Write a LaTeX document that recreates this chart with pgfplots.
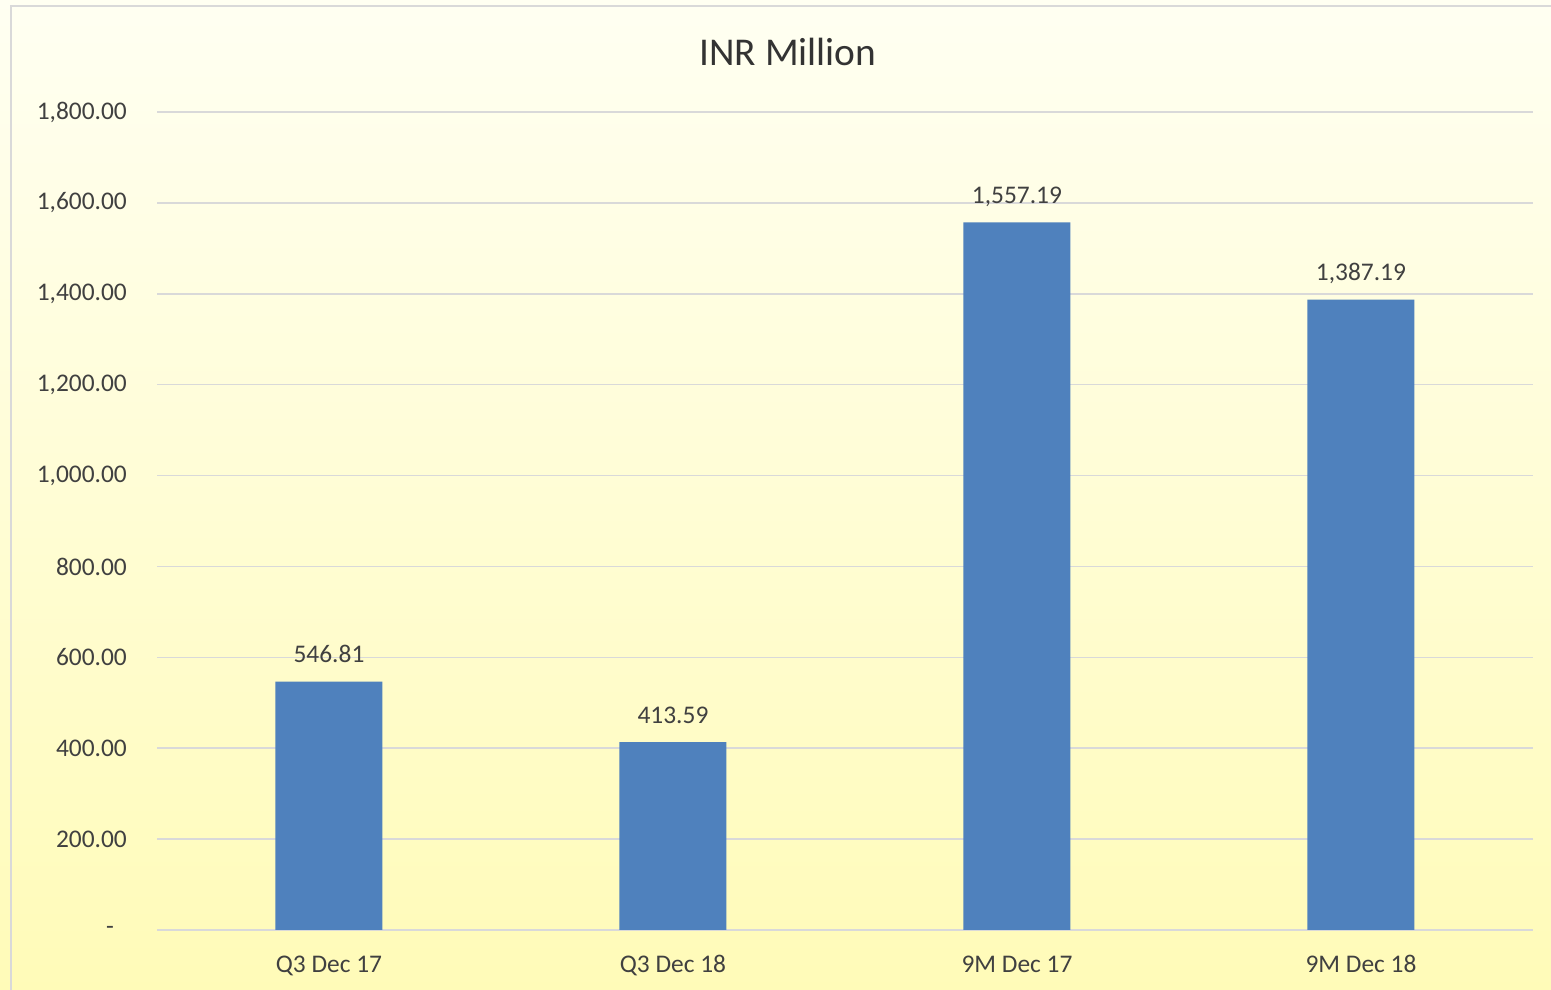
\documentclass[border=0pt]{standalone}
\usepackage{fontspec}
\setmainfont{Carlito}
\usepackage{pgfplots}
\pgfplotsset{compat=1.18}
\definecolor{barblue}{HTML}{4F81BD}
\definecolor{gridgray}{HTML}{D9D9D9}
\definecolor{txt}{HTML}{404040}
\definecolor{bgtop}{HTML}{FFFFF2}
\definecolor{bgbot}{HTML}{FFFBB8}
\begin{document}
\begin{tikzpicture}
\fill[top color=bgtop, bottom color=bgbot] (0,0) rectangle (1551bp,990bp);
\draw[gridgray, line width=2bp] (11bp,-20bp) -- (11bp,984bp) -- (1580bp,984bp);
\begin{axis}[
  at={(157bp,60bp)}, anchor=south west,
  scale only axis, width=1376bp, height=818bp,
  xmin=-0.5, xmax=3.5, ymin=0, ymax=1800,
  axis y line*=left, axis x line*=bottom,
  x axis line style={gridgray, line width=1.5bp, -},
  y axis line style={draw=none},
  ymajorgrids, grid style={gridgray, line width=1.5bp},
  major tick length=0pt,
  xtick={0,1,2,3},
  xticklabels={Q3 Dec 17, Q3 Dec 18, 9M Dec 17, 9M Dec 18},
  ytick={0,200,...,1800},
  yticklabels={{-\kern13bp}, 200.00, 400.00, 600.00, 800.00, 1{,}000.00, 1{,}200.00, 1{,}400.00, 1{,}600.00, 1{,}800.00},
  tick label style={font=\fontsize{25.4bp}{30bp}\selectfont, text=txt, inner sep=0pt},
  xticklabel style={anchor=base, yshift=-42bp},
  yticklabel style={anchor=east, xshift=-30bp},
]
\addplot[ybar, bar width=107bp, fill=barblue, draw=none,
  point meta=explicit symbolic,
  nodes near coords,
  every node near coord/.style={anchor=base, inner sep=0pt, yshift=19bp, text=txt, font=\fontsize{25.4bp}{30bp}\selectfont}]
  coordinates {(0,546.81) [546.81] (1,413.59) [413.59] (2,1557.19) [1{,}557.19] (3,1387.19) [1{,}387.19]};
\end{axis}
\node[anchor=base, inner sep=0pt, text=black!80, font=\fontsize{39.4bp}{46bp}\selectfont] at (788bp,924bp) {INR Million};
\pgfresetboundingbox
\useasboundingbox (0,0) rectangle (1551bp,990bp);
\end{tikzpicture}
\end{document}
